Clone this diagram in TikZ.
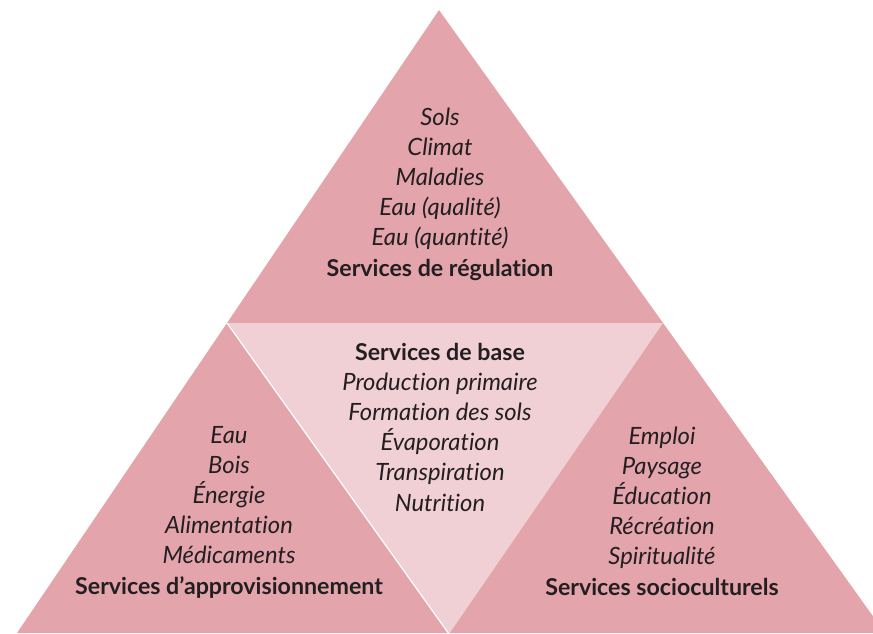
\documentclass[tikz,border=0pt]{standalone}
\usepackage{fontspec}
\setmainfont{Lato}[Ligatures=CommonOff]
\definecolor{pyrdark}{RGB}{227,164,172}
\definecolor{pyrlight}{RGB}{240,208,212}
\definecolor{ink}{RGB}{35,31,32}
\begin{document}
\begin{tikzpicture}[x=1pt,y=-1pt,
  outer/.style={fill=pyrdark,draw=none},
  core/.style={fill=pyrlight,draw=none},
  seam/.style={draw=white,line width=1.2pt},
  block/.style={align=center,text=ink,inner sep=0pt,
    font=\fontsize{23.8}{30.2}\selectfont\itshape}]
\useasboundingbox (0,0) rectangle (873,633);
\clip (0,0) rectangle (873,633);
% corner points of the pyramid
\coordinate (apex) at (439,10);
\coordinate (ml) at (227,323);
\coordinate (mr) at (663,323);
\coordinate (bl) at (17,633);
\coordinate (br) at (885,633);
\coordinate (bm) at (449,634);
% outer triangle and the inverted core triangle
\fill[outer] (apex) -- (bl) -- (br) -- cycle;
\fill[core] (ml) -- (mr) -- (bm) -- cycle;
\draw[seam] (ml) -- (bm);
% texts
\newcommand{\heading}[1]{{\fontsize{23.2}{30.2}\selectfont\upshape\bfseries #1}}
\node[block] (regulation) at (440,194)
  {Sols\\Climat\\Maladies\\Eau (qualité)\\Eau (quantité)\\\heading{Services de régulation}};
\node[block] (base) at (440,427)
  {\heading{Services de base}\\Production primaire\\Formation des sols\\Évaporation\\Transpiration\\Nutrition};
\node[block] (approvisionnement) at (229,512)
  {Eau\\Bois\\Énergie\\Alimentation\\Médicaments\\\heading{Services d{\char39}approvisionnement}};
\node[block] (socioculturels) at (662,511)
  {Emploi\\Paysage\\Éducation\\Récréation\\Spiritualité\\\heading{Services socioculturels}};
\end{tikzpicture}
\end{document}
